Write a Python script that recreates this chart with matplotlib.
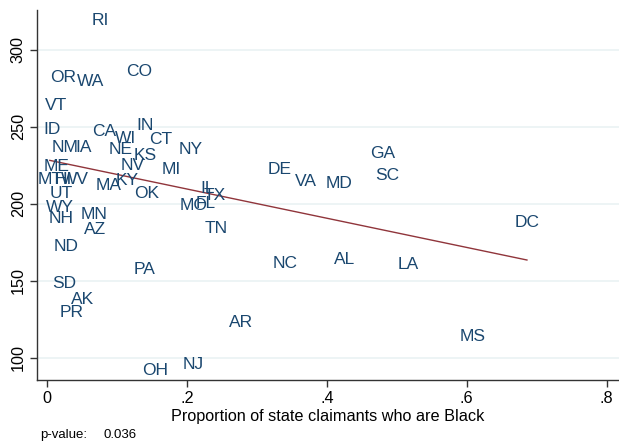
import numpy as np
import matplotlib
matplotlib.use("Agg")
import matplotlib.pyplot as plt

plt.rcParams['font.family'] = ['Liberation Sans', 'DejaVu Sans']

# state abbreviations, share of claimants who are Black, outcome per state
states = ["RI", "CO", "OR", "WA", "VT", "ID", "CA", "WI", "IN", "CT",
          "NY", "NM", "IA", "NE", "KS", "NV", "MI", "ME", "MT", "HI",
          "WV", "MA", "KY", "OK", "UT", "WY", "NH", "MN", "AZ", "ND",
          "SD", "AK", "PR", "PA", "OH", "NJ", "MO", "FL", "IL", "TX",
          "TN", "DE", "VA", "MD", "GA", "SC", "DC", "NC", "AL", "LA",
          "AR", "MS"]
share_black = [0.076, 0.132, 0.023, 0.063, 0.013, 0.007, 0.082, 0.112, 0.140, 0.162,
               0.206, 0.026, 0.052, 0.105, 0.140, 0.122, 0.178, 0.013, 0.004, 0.024,
               0.040, 0.088, 0.115, 0.143, 0.021, 0.018, 0.020, 0.067, 0.069, 0.027,
               0.025, 0.051, 0.035, 0.140, 0.155, 0.209, 0.209, 0.227, 0.230, 0.240,
               0.242, 0.333, 0.370, 0.417, 0.480, 0.486, 0.686, 0.340, 0.425, 0.517,
               0.277, 0.609]
outcome = [319.5, 285.7, 281.8, 279.2, 263.6, 248.6, 246.7, 242.5, 251.2, 241.5,
           235.0, 236.3, 236.3, 235.0, 231.5, 224.6, 222.0, 224.3, 215.8, 215.8,
           215.8, 212.2, 215.2, 207.0, 206.4, 197.6, 190.4, 192.7, 183.3, 172.0,
           148.3, 138.0, 129.2, 157.0, 91.5, 95.8, 199.2, 200.5, 210.0, 205.7,
           183.6, 222.6, 214.2, 212.9, 232.4, 218.4, 187.5, 160.9, 163.5, 160.2,
           122.5, 114.0]

# fitted line (weighted regression), drawn over the observed range of x
fit_intercept = 228.6
fit_slope = -95.0
p_value = 0.036

x_ticks = [0, 0.2, 0.4, 0.6, 0.8]
x_ticklabels = ["0", ".2", ".4", ".6", ".8"]
y_ticks = [100, 150, 200, 250, 300]

label_color = "#1a476f"
fit_color = "#90353b"
grid_color = "#eaf2f3"

fig = plt.figure(figsize=(6.19, 4.43), dpi=100)
ax = fig.add_axes([0.0598, 0.1422, 0.9402, 0.8352])

x = np.array(share_black)
y = np.array(outcome)

xs = np.array([x.min(), x.max()])
ax.plot(xs, fit_intercept + fit_slope * xs, color=fit_color, lw=1.0, zorder=2)

for s, xi, yi in zip(states, x, y):
    ax.text(xi, yi, s, color=label_color, fontsize=12.5, ha="center", va="center", zorder=3)

ax.set_xlim(-0.0143, 0.8176)
ax.set_ylim(85.4, 326)
ax.set_xticks(x_ticks)
ax.set_xticklabels(x_ticklabels)
ax.set_yticks(y_ticks)
ax.set_yticklabels([str(t) for t in y_ticks], rotation=90, va="center")
ax.tick_params(axis="both", labelsize=11.7, length=5, width=1, color="#333333", pad=3)
ax.grid(axis="y", color=grid_color, lw=1.2)
ax.set_axisbelow(True)
for side in ["top", "right"]:
    ax.spines[side].set_visible(False)
for side in ["left", "bottom"]:
    ax.spines[side].set_color("#333333")
    ax.spines[side].set_linewidth(1)

ax.set_xlabel("Proportion of state claimants who are Black", fontsize=11.7, labelpad=2)

fig.text(0.065, 0.011, "p-value:", fontsize=9.5)
fig.text(0.168, 0.011, f"{p_value:.3f}", fontsize=9.5)

fig.savefig("out.png", dpi=100, facecolor="white")
